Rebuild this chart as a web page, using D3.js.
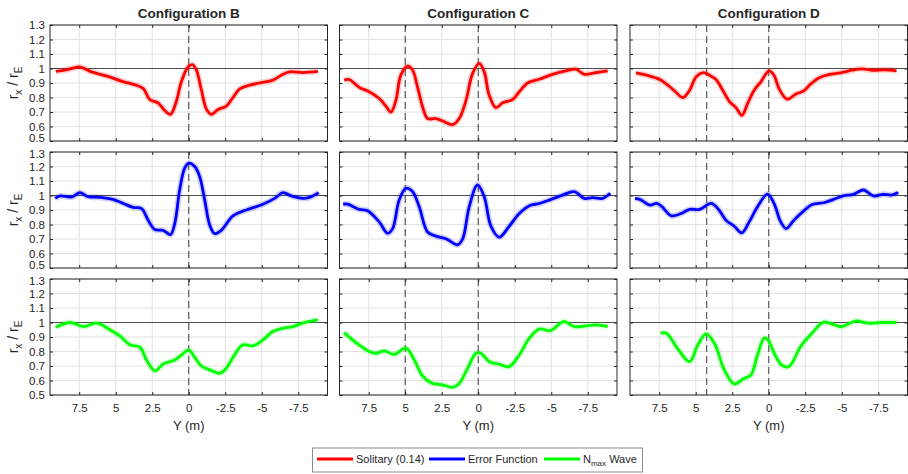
<!DOCTYPE html>
<html lang="en">
<head>
<meta charset="UTF-8">
<script src="https://d3js.org/d3.v7.min.js"></script>
<style>
  body { margin: 0; background: #fff; }
  svg text { font-family: "Liberation Sans", Arial, sans-serif; fill: #262626; }
  .axis path { display: none; }
  .axis line { stroke: #262626; }
  .axis text { font-size: 11.5px; fill: #262626; }
</style>
</head>
<body>
<svg id="viz" width="908" height="474"></svg>
<script>
// configurations (columns) and series (rows)
var configs = ["Configuration B", "Configuration C", "Configuration D"];
var seriesNames = ["Solitary (0.14)", "Error Function", "Nmax Wave"];
var seriesColors = ["#ff0000", "#0000ff", "#00ff00"];
var xTicks = [7.5, 5, 2.5, 0, -2.5, -5, -7.5];
var yTicks = [0.5, 0.6, 0.7, 0.8, 0.9, 1, 1.1, 1.2, 1.3];
var dashedB = [0], dashedC = [5, 0], dashedD = [4.25, 0];

// [Y (m), rx/rE]
var solB = [[9.1,0.98],[8.4,0.99],[7.45,1.01],[6.65,0.977],[5.6,0.947],[4.5,0.91],[3.6,0.885],[3.1,0.86],[2.67,0.786],[2.1,0.763],[1.64,0.71],[1.25,0.684],[0.89,0.76],[0.5,0.91],[0.05,1.01],[-0.25,1.027],[-0.52,0.99],[-0.87,0.85],[-1.21,0.72],[-1.55,0.684],[-2.0,0.717],[-2.57,0.74],[-3.03,0.80],[-3.49,0.86],[-4.17,0.885],[-4.85,0.90],[-5.76,0.92],[-6.33,0.954],[-6.9,0.977],[-7.8,0.972],[-8.85,0.98]];
var errB = [[9.15,0.98],[8.8,0.997],[8.0,0.99],[7.45,1.02],[6.9,0.992],[6.1,0.987],[5.2,0.973],[4.5,0.946],[3.8,0.918],[3.23,0.91],[2.78,0.83],[2.32,0.765],[1.75,0.76],[1.25,0.73],[0.96,0.806],[0.62,1.04],[0.27,1.19],[-0.02,1.223],[-0.41,1.2],[-0.75,1.13],[-1.09,0.97],[-1.44,0.795],[-1.78,0.737],[-2.23,0.76],[-3.03,0.86],[-3.94,0.9],[-5.08,0.94],[-5.88,0.98],[-6.45,1.02],[-7.02,0.997],[-7.8,0.98],[-8.27,0.987],[-8.9,1.02]];
var nmxB = [[9.1,0.968],[8.13,1.0],[7.22,0.972],[6.42,0.995],[6.08,0.99],[5.4,0.95],[4.72,0.908],[4.03,0.846],[3.35,0.83],[2.89,0.742],[2.32,0.666],[1.75,0.714],[0.96,0.742],[0.5,0.776],[0,0.811],[-0.41,0.76],[-0.87,0.70],[-1.44,0.673],[-2.12,0.65],[-2.57,0.684],[-3.03,0.76],[-3.71,0.846],[-4.4,0.839],[-5.08,0.88],[-5.76,0.938],[-6.45,0.96],[-7.13,0.972],[-7.93,1.0],[-8.85,1.018]];

var solC = [[9.18,0.92],[8.84,0.924],[8.15,0.87],[7.47,0.84],[6.78,0.793],[6.32,0.74],[5.98,0.70],[5.64,0.78],[5.3,0.954],[4.84,1.016],[4.5,0.99],[4.16,0.873],[3.81,0.735],[3.47,0.655],[2.9,0.655],[2.44,0.638],[1.76,0.613],[1.3,0.655],[0.84,0.78],[0.39,0.965],[-0.07,1.035],[-0.41,0.977],[-0.75,0.816],[-1.21,0.73],[-1.67,0.763],[-2.35,0.786],[-2.81,0.84],[-3.38,0.90],[-4.18,0.926],[-5.09,0.96],[-6.0,0.984],[-6.69,0.995],[-7.26,0.96],[-8.06,0.972],[-8.86,0.984]];
var errC = [[9.25,0.94],[8.95,0.94],[8.15,0.904],[7.58,0.895],[6.78,0.818],[6.21,0.74],[5.87,0.77],[5.41,0.97],[4.95,1.05],[4.5,1.027],[4.04,0.922],[3.47,0.748],[2.9,0.72],[2.21,0.702],[1.42,0.66],[1.07,0.70],[0.62,0.922],[0.05,1.073],[-0.41,0.992],[-0.87,0.788],[-1.44,0.713],[-2.12,0.788],[-2.81,0.876],[-3.5,0.93],[-4.18,0.945],[-4.98,0.973],[-5.78,1.003],[-6.58,1.027],[-7.26,0.98],[-7.83,0.985],[-8.52,0.98],[-9.04,1.015]];
var nmxC = [[9.18,0.93],[8.38,0.862],[7.47,0.80],[7.01,0.788],[6.44,0.804],[5.76,0.78],[4.95,0.823],[4.38,0.742],[3.81,0.631],[3.13,0.58],[2.44,0.57],[1.76,0.553],[1.3,0.58],[0.73,0.684],[0.16,0.788],[-0.18,0.788],[-0.75,0.73],[-1.44,0.712],[-2.12,0.696],[-2.81,0.776],[-3.5,0.892],[-4.18,0.954],[-4.98,0.945],[-5.55,0.99],[-5.89,1.007],[-6.58,0.972],[-7.37,0.977],[-8.06,0.984],[-8.86,0.972]];

var solD = [[9.09,0.97],[8.37,0.954],[7.46,0.924],[6.55,0.855],[5.87,0.80],[5.42,0.85],[4.97,0.942],[4.47,0.972],[4.06,0.954],[3.61,0.924],[3.15,0.85],[2.7,0.774],[2.24,0.73],[1.84,0.677],[1.45,0.758],[1.0,0.85],[0.54,0.908],[-0.02,0.984],[-0.36,0.954],[-0.7,0.862],[-1.27,0.788],[-1.84,0.823],[-2.4,0.846],[-2.86,0.892],[-3.42,0.935],[-4.1,0.958],[-4.9,0.97],[-5.69,0.988],[-6.37,0.998],[-7.05,0.988],[-7.96,0.991],[-8.75,0.984]];
var errD = [[9.16,0.98],[8.82,0.973],[8.14,0.934],[7.69,0.945],[7.35,0.927],[6.67,0.86],[5.99,0.876],[5.42,0.904],[4.74,0.904],[3.95,0.946],[3.49,0.911],[2.93,0.83],[2.36,0.788],[1.84,0.742],[1.34,0.818],[0.77,0.922],[0.09,1.01],[-0.36,0.946],[-0.82,0.818],[-1.2,0.772],[-1.72,0.83],[-2.4,0.894],[-2.97,0.938],[-3.76,0.95],[-4.44,0.973],[-5.1,0.997],[-5.8,1.008],[-6.49,1.038],[-7.17,0.997],[-7.85,1.008],[-8.41,1.003],[-8.87,1.02]];
var nmxD = [[7.41,0.926],[7.01,0.926],[6.21,0.816],[5.42,0.73],[4.85,0.846],[4.29,0.922],[3.72,0.857],[3.04,0.673],[2.36,0.576],[1.68,0.615],[1.22,0.638],[0.77,0.776],[0.32,0.892],[0.09,0.885],[-0.48,0.765],[-0.93,0.703],[-1.38,0.696],[-2.18,0.834],[-2.86,0.915],[-3.76,1.002],[-4.33,0.99],[-5.01,0.972],[-5.92,1.01],[-6.83,0.995],[-7.74,1.0],[-8.75,1.0]];

var panelData = [[solB, solC, solD], [errB, errC, errD], [nmxB, nmxC, nmxD]];
var dashed = [dashedB, dashedC, dashedD];

var svg = d3.select("#viz");
var colLeft = [50, 339.5, 630], rowTop = [25, 152, 279];
var pw = 277.5, ph = 116;

var x = d3.scaleLinear().domain([9.5, -9.5]).range([0, pw]);
var y = d3.scaleLinear().domain([0.5, 1.3]).range([ph, 0]);
var line = d3.line()
    .x(function(d) { return x(d[0]); })
    .y(function(d) { return y(d[1]); })
    .curve(d3.curveCatmullRom.alpha(0.5));

for (var r = 0; r < 3; r++) {
  for (var c = 0; c < 3; c++) {
    var g = svg.append("g").attr("transform", "translate(" + colLeft[c] + "," + rowTop[r] + ")");

    // grid
    g.selectAll(".gx").data(xTicks).enter().append("line")
      .attr("x1", function(d) { return x(d); }).attr("x2", function(d) { return x(d); })
      .attr("y1", 0).attr("y2", ph)
      .attr("stroke", "#e2e2e2").attr("stroke-width", 1);
    g.selectAll(".gy").data(yTicks).enter().append("line")
      .attr("x1", 0).attr("x2", pw)
      .attr("y1", function(d) { return y(d); }).attr("y2", function(d) { return y(d); })
      .attr("stroke", "#e2e2e2").attr("stroke-width", 1);

    // reference lines
    g.append("line").attr("x1", 0).attr("x2", pw).attr("y1", y(1)).attr("y2", y(1))
      .attr("stroke", "#4d4d4d").attr("stroke-width", 1.1);
    g.selectAll(".dash").data(dashed[c]).enter().append("line")
      .attr("x1", function(d) { return x(d); }).attr("x2", function(d) { return x(d); })
      .attr("y1", 0).attr("y2", ph)
      .attr("stroke", "#4d4d4d").attr("stroke-width", 1.1).attr("stroke-dasharray", "7,4");

    // trial spread (faint) and mean line
    g.append("path").datum(panelData[r][c]).attr("d", line)
      .attr("fill", "none").attr("stroke", seriesColors[r])
      .attr("stroke-width", 6).attr("stroke-opacity", 0.18);
    g.append("path").datum(panelData[r][c]).attr("d", line)
      .attr("fill", "none").attr("stroke", seriesColors[r])
      .attr("stroke-width", 2.8).attr("stroke-linejoin", "round");

    // axes (ticks inside, MATLAB style)
    g.append("g").attr("class", "axis").attr("transform", "translate(0," + ph + ")")
      .call(d3.axisBottom(x).tickValues(xTicks).tickSize(-3).tickPadding(9)
        .tickFormat(r == 2 ? function(d) { return d; } : ""));
    g.append("g").attr("class", "axis")
      .call(d3.axisTop(x).tickValues(xTicks).tickSize(-3).tickFormat(""));
    var yax = g.append("g").attr("class", "axis")
      .call(d3.axisLeft(y).tickValues(yTicks).tickSize(-3).tickPadding(5)
        .tickFormat(c == 0 ? function(d) { return d; } : ""));
    // keep the end labels of stacked panels from touching
    yax.selectAll(".tick text").attr("dy", function(d) {
      if (d == 0.5 && r < 2) return "0.2em";
      if (d == 1.3 && r > 0) return "0.45em";
      return "0.32em";
    }).attr("transform", function(d) {
      if (d == 0.5 && r < 2) return "translate(0,-1.5)";
      return null;
    });
    g.append("g").attr("class", "axis").attr("transform", "translate(" + pw + ",0)")
      .call(d3.axisRight(y).tickValues(yTicks).tickSize(-3).tickFormat(""));

    g.append("rect").attr("width", pw).attr("height", ph)
      .attr("fill", "none").attr("stroke", "#262626").attr("stroke-width", 1);

    if (r == 0) {
      g.append("text").attr("x", pw / 2).attr("y", -7).attr("text-anchor", "middle")
        .attr("font-size", "13.5px").attr("font-weight", "bold").text(configs[c]);
    }
    if (r == 2) {
      g.append("text").attr("x", x(0)).attr("y", ph + 35).attr("text-anchor", "middle")
        .attr("font-size", "13px").text("Y (m)");
    }
    if (c == 0) {
      var yl = g.append("text").attr("transform", "translate(-32," + (ph / 2) + ") rotate(-90)")
        .attr("text-anchor", "middle").attr("font-size", "14px");
      yl.append("tspan").text("r");
      yl.append("tspan").attr("font-size", "10px").attr("dy", 4).text("x");
      yl.append("tspan").attr("dy", -4).text(" / r");
      yl.append("tspan").attr("font-size", "10px").attr("dy", 4).text("E");
    }
  }
}

// legend
var lg = svg.append("g").attr("transform", "translate(312.5,448)");
lg.append("rect").attr("width", 330).attr("height", 24)
  .attr("fill", "#fff").attr("stroke", "#8c8c8c").attr("stroke-width", 1);
var lx = [4.5, 116.5, 231.5];
for (var i = 0; i < 3; i++) {
  lg.append("line").attr("x1", lx[i]).attr("x2", lx[i] + 36).attr("y1", 11).attr("y2", 11)
    .attr("stroke", seriesColors[i]).attr("stroke-width", 2.8);
  var t = lg.append("text").attr("x", lx[i] + 39).attr("y", 15).attr("font-size", "11px");
  if (i == 2) {
    t.append("tspan").text("N");
    t.append("tspan").attr("font-size", "8px").attr("dy", 3).text("max");
    t.append("tspan").attr("dy", -3).text(" Wave");
  } else {
    t.text(seriesNames[i]);
  }
}
</script>
</body>
</html>
